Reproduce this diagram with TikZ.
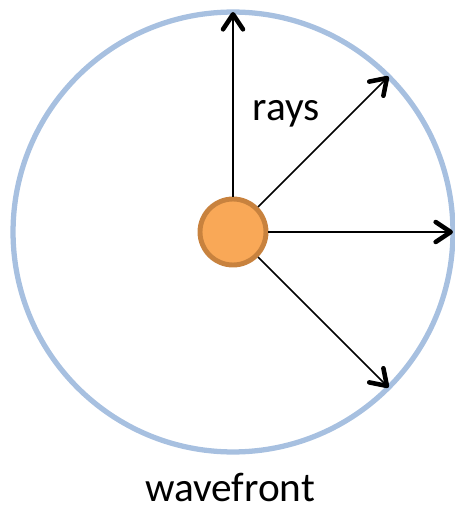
\documentclass[tikz,border=0pt]{standalone}
\usepackage{fontspec}
\setmainfont{Carlito}
\usetikzlibrary{arrows.meta, positioning}
\definecolor{wavecol}{HTML}{A7C0E0}
\definecolor{srcfill}{HTML}{F9A857}
\definecolor{srcdraw}{HTML}{C8823E}
\tikzset{
  ray/.style={line width=0.85pt, -{Straight Barb[length=3mm, width=4mm, line width=2.6pt, round]}},
  lbl/.style={font=\fontsize{23.5}{27}\selectfont, inner sep=0pt},
}
\begin{document}
\begin{tikzpicture}[x=0.02cm, y=-0.02cm]
  \useasboundingbox (0,0) rectangle (455,510);
  % wavefront and point source
  \node[circle, draw=wavecol, line width=3pt, minimum size=8.8cm, outer sep=0pt] (wave) at (233,232) {};
  \node[circle, draw=srcdraw, fill=srcfill, line width=2.8pt, minimum size=1.32cm] (src) at (233,232) {};
  % the rays
  \foreach \a in {90, 45, 0, -45}
    \draw[ray] (src) -- (wave.\a);
  \node[lbl] (rays) at (286,114) {rays};
  \node[lbl] (front) at (230,487) {wavefront};
\end{tikzpicture}
\end{document}
